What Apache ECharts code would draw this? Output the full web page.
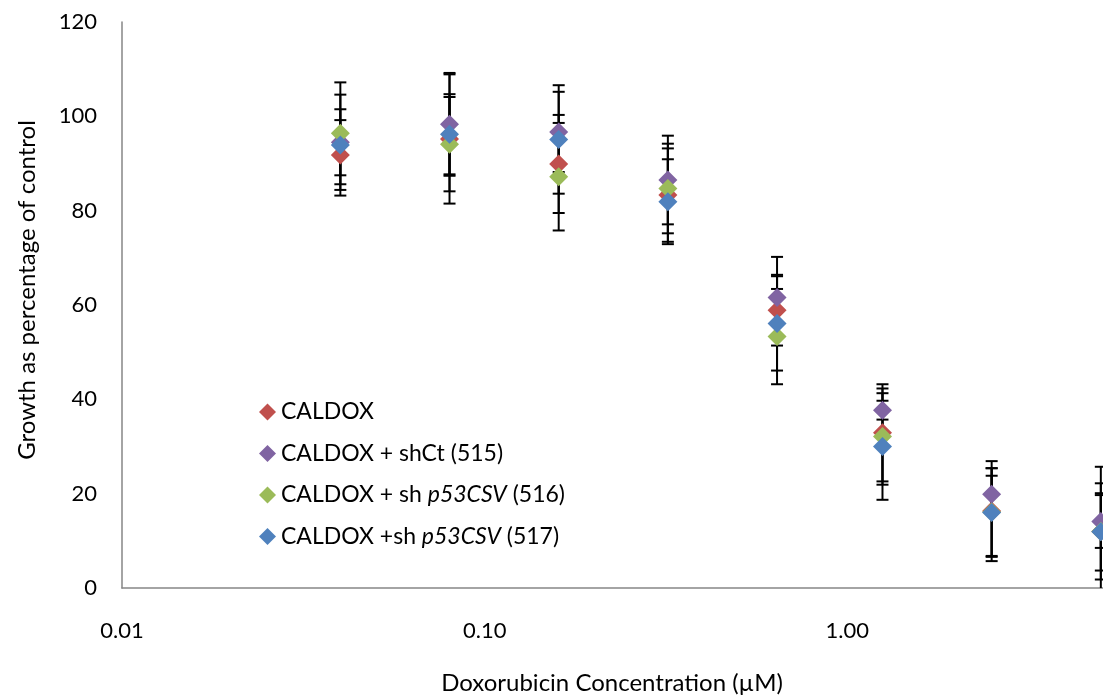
<!DOCTYPE html>
<html>
<head>
<meta charset="utf-8">
<script src="https://cdn.jsdelivr.net/npm/echarts@6/dist/echarts.min.js"></script>
<style>
html,body{margin:0;padding:0;background:#fff;}
#chart{width:1103px;height:697px;}
</style>
</head>
<body>
<div id="chart"></div>
<script>
// ---- data ----
const concentrations = [0.04, 0.08, 0.16, 0.32, 0.64, 1.25, 2.5, 5];
const seriesNames = ['CALDOX', 'CALDOX + shCt (515)', 'CALDOX + sh p53CSV (516)', 'CALDOX +sh p53CSV (517)'];
const caldox       = [91.8, 95.2, 89.9, 83.3, 58.9, 32.9, 16.3, 12.0];
const caldoxErr    = [7.4, 13.7, 10.4, 9.9, 7.5, 10.3, 10.6, 13.7];
const shCt515      = [94.5, 98.3, 96.7, 86.5, 61.6, 37.7, 19.9, 14.1];
const shCt515Err   = [7.0, 10.9, 8.5, 9.4, 8.6, 2.0, 3.9, 5.6];
const shP53_516    = [96.4, 94.1, 87.2, 84.7, 53.3, 32.1, 16.1, 12.0];
const shP53_516Err = [10.8, 10.0, 11.4, 9.5, 10.1, 10.2, 9.3, 10.2];
const shP53_517    = [93.9, 96.2, 95.1, 81.9, 56.1, 30.0, 16.0, 11.9];
const shP53_517Err = [10.7, 8.5, 11.5, 9.0, 10.0, 11.3, 9.4, 8.2];
const yTicks = [0, 20, 40, 60, 80, 100, 120];
const xTitle = 'Doxorubicin Concentration (µM)';
const yTitle = 'Growth as percentage of control';

const colors = ['#C0504D', '#8064A2', '#9BBB59', '#4F81BD'];
const values = [caldox, shCt515, shP53_516, shP53_517];
const errs = [caldoxErr, shCt515Err, shP53_516Err, shP53_517Err];
const FONT = 'Lato';

const chart = echarts.init(document.getElementById('chart'), null, {renderer: 'canvas'});

function errorRender(params, api) {
  const x = api.value(0), y = api.value(1), e = api.value(2);
  const hi = api.coord([x, y + e]);
  const lo = api.coord([x, y - e]);
  const w = 6;
  const st = {stroke: '#000', lineWidth: 2};
  return {
    type: 'group',
    children: [
      {type: 'line', shape: {x1: hi[0], y1: hi[1], x2: lo[0], y2: lo[1]}, style: st},
      {type: 'line', shape: {x1: hi[0] - w, y1: hi[1], x2: hi[0] + w, y2: hi[1]}, style: st},
      {type: 'line', shape: {x1: lo[0] - w, y1: lo[1], x2: lo[0] + w, y2: lo[1]}, style: st}
    ]
  };
}

const series = [];
values.forEach((vals, k) => {
  series.push({
    type: 'custom',
    name: seriesNames[k] + ' err',
    renderItem: errorRender,
    data: concentrations.map((c, i) => [c, vals[i], errs[k][i]]),
    encode: {x: 0, y: 1},
    clip: true,
    silent: true,
    z: 1
  });
});
values.forEach((vals, k) => {
  series.push({
    type: 'scatter',
    name: seriesNames[k],
    symbol: 'diamond',
    symbolSize: 19,
    itemStyle: {color: colors[k], opacity: 1},
    data: concentrations.map((c, i) => [c, vals[i]]),
    z: 3
  });
});

const option = {
  animation: false,
  backgroundColor: '#fff',
  grid: {left: 122, top: 22, right: -107, bottom: 109, outerBoundsMode: 'none'},
  xAxis: {
    type: 'log', logBase: 10, min: 0.01, max: 10,
    axisLine: {lineStyle: {color: '#868686', width: 1.5}},
    axisTick: {show: false},
    minorTick: {show: false},
    splitLine: {show: false},
    axisLabel: {
      formatter: v => Number(v).toFixed(2),
      margin: 32, fontSize: 22, color: '#000', fontFamily: FONT
    }
  },
  yAxis: {
    type: 'value', min: yTicks[0], max: yTicks[yTicks.length - 1], interval: 20,
    axisLine: {show: true, lineStyle: {color: '#868686', width: 1.5}},
    axisTick: {show: false},
    splitLine: {show: false},
    axisLabel: {margin: 25, fontSize: 22, color: '#000', fontFamily: FONT}
  },
  legend: {
    data: seriesNames,
    orient: 'vertical',
    left: 254, top: 395,
    itemWidth: 17, itemHeight: 17, itemGap: 17.5,
    icon: 'diamond',
    formatter: name => {
      const m = name.match(/^(.*?)(p53CSV)(.*)$/);
      if (m) return '{a|' + m[1] + '}{i|' + m[2] + '}{a|' + m[3] + '}';
      return '{a|' + name + '}';
    },
    textStyle: {
      fontFamily: FONT, fontSize: 23, color: '#000', lineHeight: 24,
      rich: {
        a: {fontFamily: FONT, fontSize: 23, color: '#000', lineHeight: 24},
        i: {fontFamily: FONT, fontSize: 23, color: '#000', fontStyle: 'italic', lineHeight: 24}
      }
    }
  },
  graphic: [
    {type: 'text', x: 612, y: 683, style: {text: xTitle, fontFamily: FONT, fontSize: 24, fill: '#000', textAlign: 'center', textVerticalAlign: 'middle'}},
    {type: 'text', x: 27, y: 290, rotation: Math.PI / 2, style: {text: yTitle, fontFamily: FONT, fontSize: 24, fill: '#000', textAlign: 'center', textVerticalAlign: 'middle'}}
  ],
  series: series
};
chart.setOption(option);
</script>
</body>
</html>
